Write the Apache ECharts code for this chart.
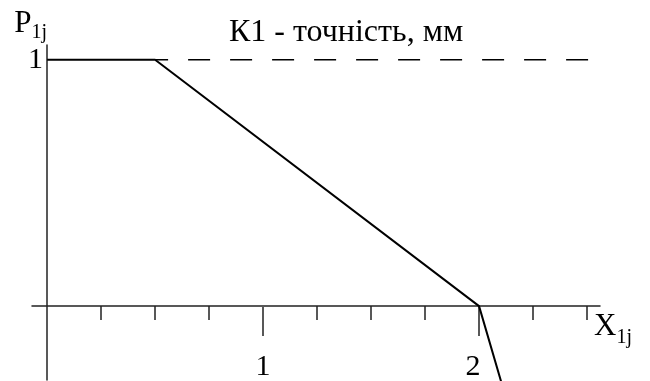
<!DOCTYPE html>
<html>
<head>
<meta charset="utf-8">
<script src="https://cdn.jsdelivr.net/npm/echarts@6/dist/echarts.min.js"></script>
<style>
  html,body{margin:0;padding:0;background:#fff;}
  #chart{width:650px;height:381px;}
</style>
</head>
<body>
<div id="chart"></div>
<script>
// дані функції належності
var xVals=[0,0.5,2,2.12];
var pVals=[1,1,0,-0.36];
var dashX=[0.5,2.56];//пунктир P=1
var dashP=[1,1];
var shortTicks=[0.25,0.5,0.75,1.25,1.5,1.75,2.25,2.5];
var longTicks=[1,2];
var xLabels=[1,2];
var yLabels=[1];

var serif='"Liberation Serif","DejaVu Serif",serif';
var lineData=[],dashData=[];
for(var i=0;i<xVals.length;i++){ lineData.push([xVals[i],pVals[i]]); }
for(var j=0;j<dashX.length;j++){ dashData.push([dashX[j],dashP[j]]); }

var chart=echarts.init(document.getElementById('chart'));
chart.setOption({
    animation:false,
    title:{
        text:'К1 - точність, мм',
        left:224,
        top:12,
        textStyle:{fontFamily:serif,fontSize:32,fontWeight:'normal',color:'#000'}
    },
    grid:{left:32,right:50,top:45,bottom:0},
    xAxis:[
        {
            type:'value',min:-0.07,max:2.56,
            splitLine:{show:false},
            axisLine:{onZero:true,lineStyle:{color:'#222',width:1.5}},
            axisTick:{customValues:shortTicks,length:14,lineStyle:{color:'#222',width:1.5}},
            axisLabel:{show:false},
            name:'{a|X}{b|1j}',
            nameLocation:'end',
            nameGap:-6,
            nameTextStyle:{
                verticalAlign:'top',
                padding:[0,0,0,0],
                rich:{
                    a:{fontFamily:serif,fontSize:31,color:'#000'},
                    b:{fontFamily:serif,fontSize:20,color:'#000',padding:[22,0,0,0]}
                }
            }
        },
        {
            // довгі поділки 1 і 2 на тій самій лінії
            type:'value',min:-0.07,max:2.56,position:'top',offset:-262,
            splitLine:{show:false},
            axisLine:{show:false},
            axisTick:{customValues:longTicks,length:29,inside:true,lineStyle:{color:'#222',width:1.5}},
            axisLabel:{
                customValues:xLabels,inside:true,margin:45,
                fontFamily:serif,fontSize:30,color:'#000',
                formatter:function(v){
                    return v===2?'{s|2}':'{n|'+v+'}';
                },
                rich:{
                    n:{fontFamily:serif,fontSize:30,color:'#000'},
                    s:{fontFamily:serif,fontSize:30,color:'#000',padding:[0,12,0,0]}
                }
            }
        }
    ],
    yAxis:{
        type:'value',min:-0.3,max:1.06,
        splitLine:{show:false},
        axisLine:{onZero:true,lineStyle:{color:'#222',width:1.5}},
        axisTick:{show:false},
        axisLabel:{customValues:yLabels,margin:-11,fontFamily:serif,fontSize:30,color:'#000'},
        name:'{a|P}{b|1j}',
        nameLocation:'end',
        nameGap:2,
        nameTextStyle:{
            align:'right',
            rich:{
                a:{fontFamily:serif,fontSize:31,color:'#000'},
                b:{fontFamily:serif,fontSize:20,color:'#000',padding:[18,0,0,0]}
            }
        }
    },
    series:[
        {
            type:'line',data:lineData,
            symbol:'none',clip:true,
            lineStyle:{color:'#000',width:2}
        },
        {
            type:'line',data:dashData,
            symbol:'none',
            lineStyle:{color:'#000',width:1.5,type:[22,20],dashOffset:9}
        }
    ]
});

window.onresize=function(){
    chart.resize();
};
</script>
</body>
</html>
